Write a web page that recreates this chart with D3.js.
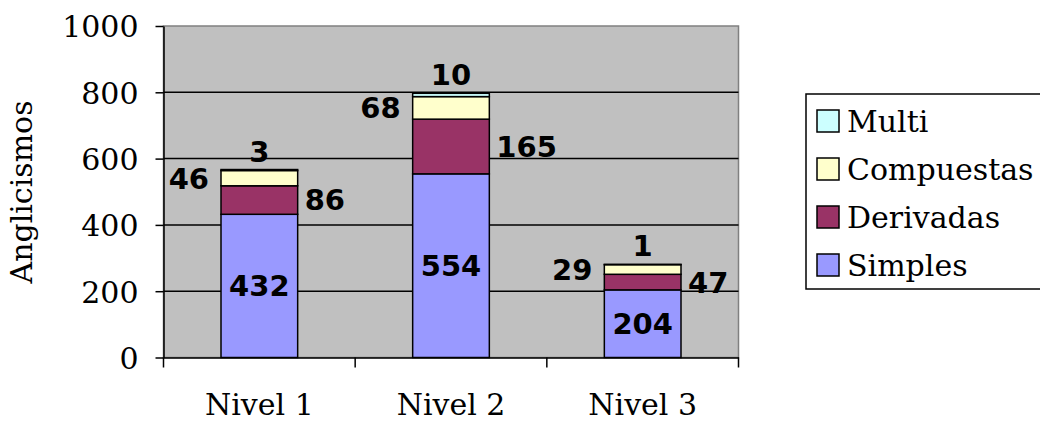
<!DOCTYPE html>
<html>
<head>
<meta charset="utf-8">
<script src="https://cdn.jsdelivr.net/npm/d3@7"></script>
<style>
  body { margin: 0; background: #fff; }
  svg { display: block; }
</style>
</head>
<body>
<svg id="chart" width="1040" height="422"></svg>
<script>
(function() {
    'use strict';

    // data
    var categories = ['Nivel 1', 'Nivel 2', 'Nivel 3'];
    var seriesNames = ['Simples', 'Derivadas', 'Compuestas', 'Multi'];
    var simples = [432, 554, 204];
    var derivadas = [86, 165, 47];
    var compuestas = [46, 68, 29];
    var multi = [3, 10, 1];
    var yTicks = [0, 200, 400, 600, 800, 1000];
    var colors = ['#9999FF', '#993366', '#FFFFCC', '#CCFFFF'];

    var rows = categories.map(function(c, i) {
        return {cat: c, Simples: simples[i], Derivadas: derivadas[i], Compuestas: compuestas[i], Multi: multi[i]};
    });

    var serif = "'DejaVu Serif', 'Liberation Serif', serif";
    var bold = "'DejaVu Sans', Verdana, sans-serif";

    var plot = {left: 163.5, right: 738.5, top: 26, bottom: 357.5};

    var svg = d3.select('#chart');

    var x = d3.scaleBand().domain(categories).range([plot.left, plot.right]).padding(0);
    var y = d3.scaleLinear().domain([0, 1000]).range([plot.bottom, plot.top]);
    var barW = x.bandwidth() * 0.4;
    var color = d3.scaleOrdinal().domain(seriesNames).range(colors);

    // plot background
    svg.append('rect')
        .attr('x', plot.left).attr('y', plot.top)
        .attr('width', plot.right - plot.left).attr('height', plot.bottom - plot.top)
        .attr('fill', '#C0C0C0')
        .attr('stroke', '#808080').attr('stroke-width', 1.5);

    // gridlines
    svg.append('g').selectAll('line')
        .data(yTicks.filter(function(t) { return t > 0 && t < 1000; }))
        .enter().append('line')
        .attr('x1', plot.left).attr('x2', plot.right)
        .attr('y1', function(d) { return y(d); }).attr('y2', function(d) { return y(d); })
        .attr('stroke', '#000').attr('stroke-width', 1.5);

    // bars
    var stacked = d3.stack().keys(seriesNames)(rows);
    var layers = svg.append('g').selectAll('g')
        .data(stacked).enter().append('g')
        .attr('fill', function(d) { return color(d.key); });

    layers.selectAll('rect')
        .data(function(d) { return d; })
        .enter().append('rect')
        .attr('x', function(d) { return x(d.data.cat) + (x.bandwidth() - barW) / 2; })
        .attr('y', function(d) { return y(d[1]); })
        .attr('width', barW)
        .attr('height', function(d) { return y(d[0]) - y(d[1]); })
        .attr('stroke', '#000').attr('stroke-width', 1.5);

    // y axis
    var yAxis = svg.append('g')
        .attr('transform', 'translate(' + plot.left + ',0)')
        .call(d3.axisLeft(y).tickValues(yTicks).tickFormat(d3.format('d'))
            .tickSize(8).tickPadding(17).tickSizeOuter(0));
    yAxis.select('.domain').attr('stroke', '#000').attr('stroke-width', 1.5);
    yAxis.selectAll('.tick line').attr('stroke', '#000').attr('stroke-width', 1.5);
    yAxis.selectAll('text')
        .style('font-family', serif).style('font-size', '30px').attr('fill', '#000')
        .attr('dy', '0.36em');

    // x axis
    var xAxis = svg.append('g')
        .attr('transform', 'translate(0,' + plot.bottom + ')')
        .call(d3.axisBottom(x).tickSize(0).tickPadding(0).tickSizeOuter(0));
    xAxis.select('.domain').attr('stroke', '#000').attr('stroke-width', 1.5);
    xAxis.selectAll('text')
        .style('font-family', serif).style('font-size', '30px').attr('fill', '#000')
        .attr('y', 57).attr('dy', 0);
    var bounds = categories.map(function(c) { return x(c); }).concat([plot.right]);
    xAxis.append('g').selectAll('line')
        .data(bounds).enter().append('line')
        .attr('x1', function(d) { return d; }).attr('x2', function(d) { return d; })
        .attr('y1', 0).attr('y2', 10)
        .attr('stroke', '#000').attr('stroke-width', 1.5);

    // y title
    svg.append('text')
        .attr('transform', 'translate(32,192) rotate(-90)')
        .attr('text-anchor', 'middle')
        .style('font-family', serif).style('font-size', '30px')
        .text('Anglicismos');

    // data labels
    var labels = svg.append('g')
        .style('font-family', bold).style('font-weight', 'bold').style('font-size', '29px').attr('fill', '#000');
    stacked.forEach(function(layer) {
        layer.forEach(function(d) {
            var left = x(d.data.cat) + (x.bandwidth() - barW) / 2;
            var right = left + barW;
            var mid = (y(d[0]) + y(d[1])) / 2;
            var t = labels.append('text').text(d.data[layer.key]);
            if (layer.key === 'Simples') {
                t.attr('x', left + barW / 2).attr('y', mid).attr('dy', '0.36em').attr('text-anchor', 'middle');
            } else if (layer.key === 'Derivadas') {
                t.attr('x', right + 7).attr('y', mid).attr('dy', '0.36em').attr('text-anchor', 'start');
            } else if (layer.key === 'Compuestas') {
                t.attr('x', left - 12).attr('y', mid).attr('dy', '0.36em').attr('text-anchor', 'end');
            } else {
                t.attr('x', left + barW / 2).attr('y', y(d[1]) - 8).attr('text-anchor', 'middle');
            }
        });
    });

    // legend
    var legend = svg.append('g');
    legend.append('rect')
        .attr('x', 806).attr('y', 94).attr('width', 260).attr('height', 195)
        .attr('fill', '#fff').attr('stroke', '#000').attr('stroke-width', 1.5);
    var items = legend.selectAll('g.item')
        .data(seriesNames.slice().reverse())
        .enter().append('g').attr('class', 'item')
        .attr('transform', function(d, i) { return 'translate(817,' + (110 + i * 48) + ')'; });
    items.append('rect')
        .attr('width', 22).attr('height', 22)
        .attr('fill', function(d) { return color(d); })
        .attr('stroke', '#000').attr('stroke-width', 1.5);
    items.append('text')
        .attr('x', 30).attr('y', 22)
        .style('font-family', serif).style('font-size', '30px')
        .text(function(d) { return d; });
})();
</script>
</body>
</html>
